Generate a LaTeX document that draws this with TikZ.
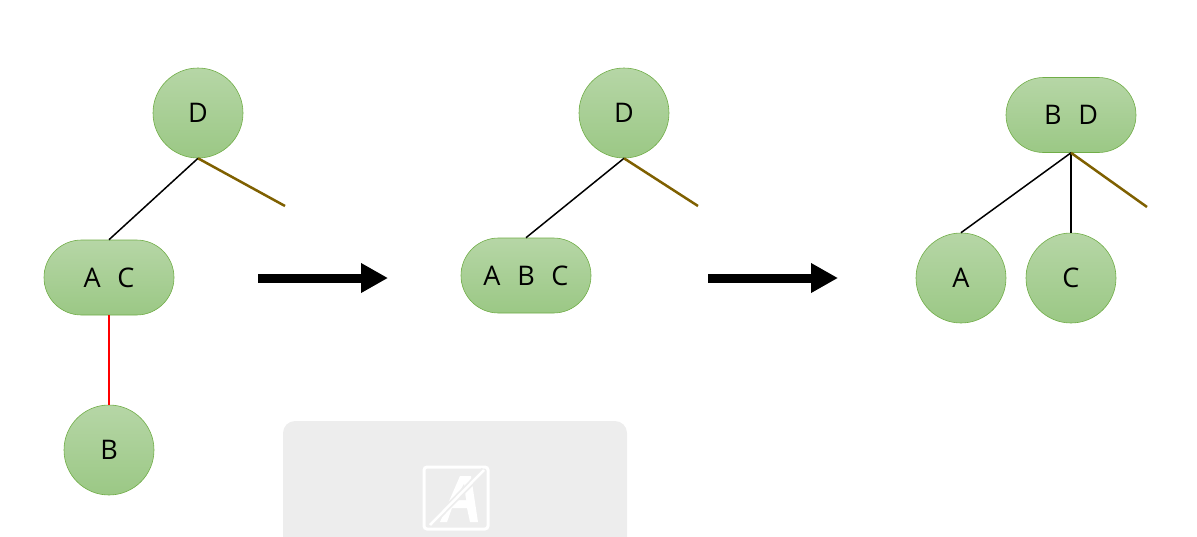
\documentclass[tikz,border=0pt]{standalone}
\usepackage{fontspec}
\setmainfont{Open Sans}
\usetikzlibrary{shapes.misc,arrows.meta}
\newcommand{\keygap}{\hspace{0.62em}}
\begin{document}
\begin{tikzpicture}[x=1pt,y=-1pt,
  font=\fontsize{27}{31}\selectfont,
  leafnode/.style={circle, minimum size=90pt, inner sep=0pt,
    draw=nodeborder, line width=0.6pt, top color=nodetop, bottom color=nodebottom},
  pillnode/.style={rounded rectangle, minimum width=130pt, minimum height=75pt, inner sep=0pt,
    draw=nodeborder, line width=0.6pt, top color=nodetop, bottom color=nodebottom},
  edge/.style={black, line width=1.5pt},
  keyedge/.style={red, line width=1.5pt},
  openedge/.style={openbrown, line width=2.5pt},
  stepping/.style={line width=9pt, -{Triangle[length=27pt,width=28pt]}}
]
\definecolor{nodetop}{RGB}{182,214,166}
\definecolor{nodebottom}{RGB}{155,200,133}
\definecolor{nodeborder}{RGB}{112,173,71}
\definecolor{openbrown}{RGB}{127,96,0}
\definecolor{panelgray}{RGB}{237,237,237}
\useasboundingbox (0,0) rectangle (1197,536);

% tree before the split
\node[leafnode] (d1) at (198,113) {D};
\node[pillnode] (ac) at (109,277.5) {A\keygap C};
\node[leafnode] (b1) at (109,450) {B};
\coordinate (o1) at (285,206);
\draw[edge] (d1.south) -- (ac.north);
\draw[openedge] (d1.south) -- (o1);
\draw[keyedge] (ac.south) -- (b1.north);

% first step
\coordinate (s1) at (258,278);
\coordinate (t1) at (388,278);
\draw[stepping] (s1) -- (t1);

% three keys in one node
\node[leafnode] (d2) at (624,113) {D};
\node[pillnode] (abc) at (526,275.5) {A\keygap B\keygap C};
\coordinate (o2) at (698,206);
\draw[edge] (d2.south) -- (abc.north);
\draw[openedge] (d2.south) -- (o2);

% second step
\coordinate (s2) at (708,278);
\coordinate (t2) at (838,278);
\draw[stepping] (s2) -- (t2);

% tree after the split
\node[pillnode] (bd) at (1071,115) {B\keygap D};
\node[leafnode] (a3) at (961,278) {A};
\node[leafnode] (c3) at (1071,278) {C};
\coordinate (o3) at (1147,207);
\draw[edge] (bd.south) -- (a3.north);
\draw[edge] (bd.south) -- (c3.north);
\draw[openedge] (bd.south) -- (o3);

% grey panel with font icon
\fill[panelgray, rounded corners=12pt] (283,421) rectangle (627,560);
\draw[white, line width=3pt, rounded corners=3pt] (424,467) rectangle (488,529);
\fill[white] (440,522) -- (460,476) -- (471,476) -- (478,522) -- (470,522) -- (467,508) -- (452,508) -- (447,522) -- cycle;
\fill[panelgray] (455,500) -- (464,484) -- (466,500) -- cycle;
\draw[panelgray, line width=6pt] (430,525) -- (484,470);
\draw[white, line width=2.5pt] (430,525) -- (484,470);
\end{tikzpicture}
\end{document}
